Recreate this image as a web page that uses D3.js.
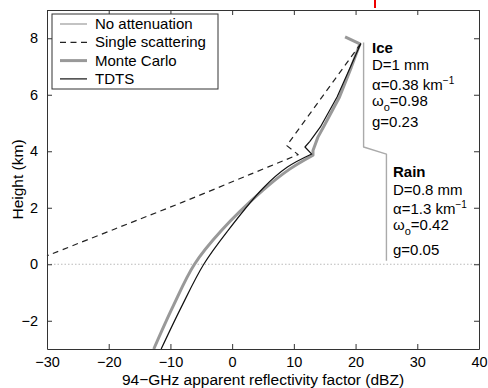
<!DOCTYPE html>
<html>
<head>
<meta charset="utf-8">
<script src="https://cdn.jsdelivr.net/npm/d3@7"></script>
<style>
  body { margin: 0; background: #fff; }
  svg text { font-family: "Liberation Sans", Arial, sans-serif; }
</style>
</head>
<body>
<div id="chart"></div>
<script>
// profiles: [dBZ, height km]; "ice" part drawn straight, "rain" part smooth
const noAttenuation = [[21.3, 7.85], [21.3, 4.15], [25.0, 3.9], [25.0, 0.12]];
const singleScatteringIce = [[20.85, 7.81], [8.85, 4.2], [10.7, 3.88]];
const singleScatteringRain = [[10.7, 3.88], [2.9, 3.18], [-8, 2.2], [-19, 1.25], [-30, 0.3]];
const monteCarloIce = [[18.3, 8.05], [20.7, 7.8], [19.3, 6.97], [17.4, 5.92], [14.8, 4.86], [13.9, 4.5],
  [13.1, 4.03], [13.1, 3.86]];
const monteCarloRain = [[13.1, 3.86], [9.2, 3.35], [5.0, 2.62], [-1.7, 1.2], [-6.1, 0], [-9.6, -1.5],
  [-12.7, -3]];
const tdtsIce = [[20.85, 7.81], [19.0, 6.9], [17.0, 5.92], [14.3, 4.86], [12.6, 4.35], [11.8, 4.15],
  [12.9, 3.9]];
const tdtsRain = [[12.9, 3.9], [8.9, 3.43], [5.0, 2.69], [-0.65, 1.2], [-4.6, 0], [-8.2, -1.5],
  [-11.5, -3]];

const xTicks = [-30, -20, -10, 0, 10, 20, 30, 40];
const yTicks = [-2, 0, 2, 4, 6, 8];

const width = 488, height = 388;
const margin = { top: 10, right: 9, bottom: 39, left: 47 };

const svg = d3.select("#chart").append("svg")
  .attr("width", width)
  .attr("height", height);

const x = d3.scaleLinear().domain([-30, 40]).range([margin.left, width - margin.right]);
const y = d3.scaleLinear().domain([-3, 9]).range([height - margin.bottom, margin.top]);

const fmt = d => d < 0 ? "\u2212" + Math.abs(d) : String(d);

// zero height line
svg.append("line")
  .attr("x1", x(-30)).attr("x2", x(40))
  .attr("y1", y(0)).attr("y2", y(0))
  .attr("stroke", "#bbb").attr("stroke-width", 1)
  .attr("stroke-dasharray", "1.5,2");

const straight = d3.line().x(d => x(d[0])).y(d => y(d[1]));
const smooth = d3.line().x(d => x(d[0])).y(d => y(d[1])).curve(d3.curveCatmullRom.alpha(0.5));

function profile(ice, rain, stroke, w, dash) {
  svg.append("path")
    .attr("d", straight(ice) + (rain ? smooth(rain).replace(/^M/, "L") : ""))
    .attr("fill", "none")
    .attr("stroke", stroke).attr("stroke-width", w)
    .attr("stroke-linejoin", "round")
    .attr("stroke-dasharray", dash);
}

profile(noAttenuation, null, "#aaa", 1.4, null);
profile(monteCarloIce, monteCarloRain, "#999", 3, null);
profile(singleScatteringIce, singleScatteringRain, "#222", 1.2, "6,4.5");
profile(tdtsIce, tdtsRain, "#111", 1.2, null);

// axes (ticks inside, matlab style)
svg.append("g")
  .attr("transform", `translate(0,${y(-3)})`)
  .call(d3.axisBottom(x).tickValues(xTicks).tickSizeInner(-5).tickSizeOuter(0).tickPadding(8).tickFormat(fmt))
  .call(g => g.selectAll("text").attr("font-size", 14.5).attr("fill", "#000"));
svg.append("g")
  .attr("transform", `translate(0,${y(9)})`)
  .call(d3.axisTop(x).tickValues(xTicks).tickSizeInner(-5).tickSizeOuter(0).tickFormat(""));
svg.append("g")
  .attr("transform", `translate(${x(-30)},0)`)
  .call(d3.axisLeft(y).tickValues(yTicks).tickSizeInner(-5).tickSizeOuter(0).tickPadding(9).tickFormat(fmt))
  .call(g => g.selectAll("text").attr("font-size", 14.5).attr("fill", "#000"));
svg.append("g")
  .attr("transform", `translate(${x(40)},0)`)
  .call(d3.axisRight(y).tickValues(yTicks).tickSizeInner(-5).tickSizeOuter(0).tickFormat(""));
svg.selectAll(".domain").attr("stroke", "#333");
svg.selectAll(".tick line").attr("stroke", "#333");

svg.append("text")
  .attr("x", (x(-30) + x(40)) / 2).attr("y", height - 3)
  .attr("text-anchor", "middle").attr("font-size", 15.5)
  .text("94\u2212GHz apparent reflectivity factor (dBZ)");
svg.append("text")
  .attr("transform", `translate(23,${(y(-3) + y(9)) / 2}) rotate(-90)`)
  .attr("text-anchor", "middle").attr("font-size", 15.5)
  .text("Height (km)");

// legend
const legendItems = [
  { label: "No attenuation", stroke: "#aaa", w: 1.4, dash: null },
  { label: "Single scattering", stroke: "#222", w: 1.2, dash: "6,4.5" },
  { label: "Monte Carlo", stroke: "#999", w: 3, dash: null },
  { label: "TDTS", stroke: "#111", w: 1.2, dash: null }
];
const lg = svg.append("g").attr("transform", "translate(52,14)");
lg.append("rect").attr("width", 166).attr("height", 75)
  .attr("fill", "#fff").attr("stroke", "#333").attr("stroke-width", 1);
legendItems.forEach((d, i) => {
  const yy = 10 + i * 18.3;
  lg.append("line").attr("x1", 8).attr("x2", 35).attr("y1", yy).attr("y2", yy)
    .attr("stroke", d.stroke).attr("stroke-width", d.w)
    .attr("stroke-dasharray", d.dash);
  lg.append("text").attr("x", 43).attr("y", yy + 5).attr("font-size", 15).text(d.label);
});

// annotations
function note(x0, lines) {
  const g = svg.append("g");
  lines.forEach(l => {
    const t = g.append("text").attr("x", x0).attr("y", l.y).attr("font-size", 15);
    if (l.bold) t.attr("font-weight", "bold");
    l.parts.forEach(p => {
      const ts = t.append("tspan").text(p.t);
      if (p.dy) ts.attr("dy", p.dy).attr("font-size", p.fs || 15);
    });
  });
}
note(372, [
  { y: 53, bold: true, parts: [{ t: "Ice" }] },
  { y: 70, parts: [{ t: "D=1 mm" }] },
  { y: 90, parts: [{ t: "\u03b1=0.38 km" }, { t: "\u22121", dy: -6, fs: 10 }] },
  { y: 106, parts: [{ t: "\u03c9" }, { t: "o", dy: 5, fs: 11 }, { t: "=0.98", dy: -5 }] },
  { y: 127, parts: [{ t: "g=0.23" }] }
]);
note(393, [
  { y: 177, bold: true, parts: [{ t: "Rain" }] },
  { y: 195, parts: [{ t: "D=0.8 mm" }] },
  { y: 214, parts: [{ t: "\u03b1=1.3 km" }, { t: "\u22121", dy: -6, fs: 10 }] },
  { y: 230, parts: [{ t: "\u03c9" }, { t: "o", dy: 5, fs: 11 }, { t: "=0.42", dy: -5 }] },
  { y: 255, parts: [{ t: "g=0.05" }] }
]);

// red mark at top
svg.append("line").attr("x1", 375).attr("x2", 375).attr("y1", 0).attr("y2", 8)
  .attr("stroke", "#e00").attr("stroke-width", 2);
</script>
</body>
</html>
